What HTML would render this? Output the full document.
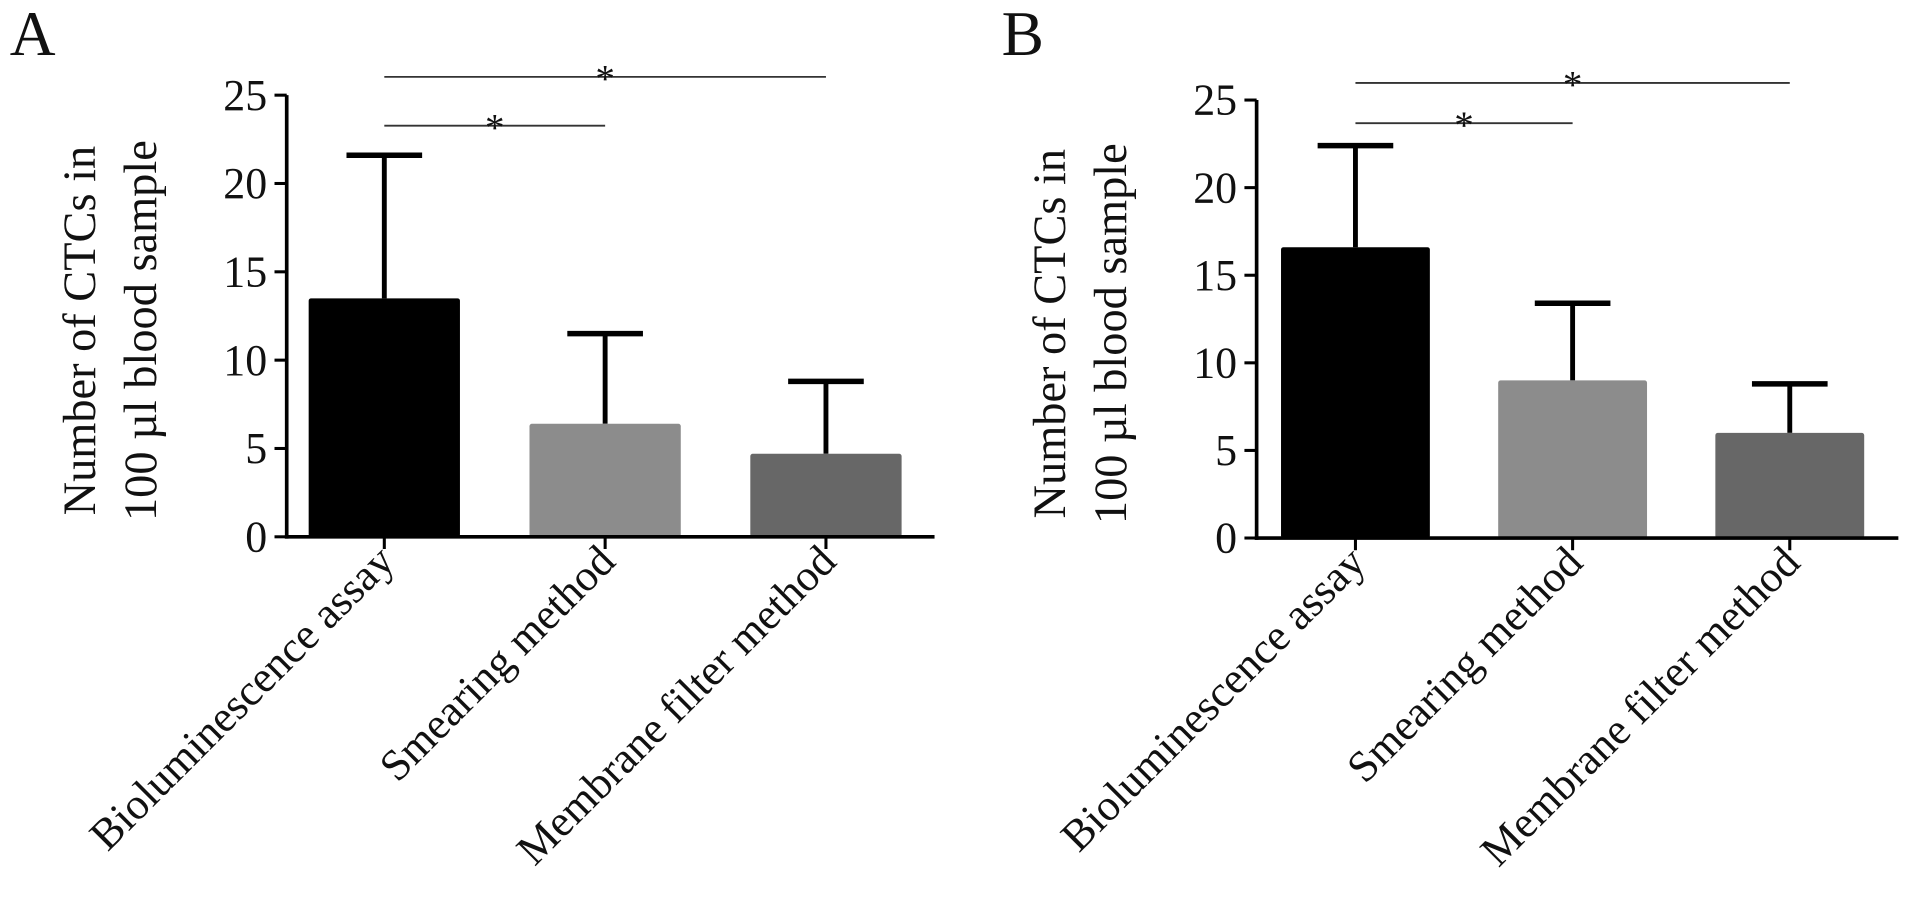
<!DOCTYPE html>
<html><head><meta charset="utf-8"><style>
html,body{margin:0;padding:0;background:#fff;}
svg{display:block;}
text{font-family:"Liberation Serif",serif;fill:#111;}
</style></head><body>
<svg id="fig" width="1913" height="900" viewBox="0 0 1568 737.7" preserveAspectRatio="none" xmlns="http://www.w3.org/2000/svg"></svg>
<script>
const categories = ["Bioluminescence assay", "Smearing method", "Membrane filter method"];
const colors = ["#000000", "#8c8c8c", "#676767"];
const yTicks = [0, 5, 10, 15, 20, 25];
const meansA = [13.5, 6.4, 4.7];
const errA = [21.6, 11.5, 8.8];
const meansB = [16.6, 9.0, 6.0];
const errB = [22.4, 13.4, 8.8];
const sigPairs = [[0, 2], [0, 1]];
const sigLabels = ["*", "*"];

const NS = "http://www.w3.org/2000/svg";
const svg = document.getElementById('fig');
function mk(tag, attrs, parent) {
  const e = document.createElementNS(NS, tag);
  for (const k in attrs) e.setAttribute(k, attrs[k]);
  (parent || svg).appendChild(e);
  return e;
}

function panel(cfg) {
  const g = mk('g', {});
  
  
  const y = v => cfg.y0 - (v / 25) * (cfg.y0 - cfg.y25);
  const cx = i => cfg.c0 + i * cfg.step;

  const L = mk('text', {x: cfg.lx, y: 45, 'font-size': 52}, g);
  L.textContent = cfg.letter;
  
  

  const mid = (cfg.y0 + cfg.y25) / 2 + 12;
  const yt = mk('text', {transform: `translate(${cfg.ax - 157},${mid}) rotate(-90)`, 'font-size': 38, 'text-anchor': 'middle'}, g);
  yt.textContent = 'Number of CTCs in';
  
  
  const yt2 = mk('text', {transform: `translate(${cfg.ax - 107},${mid}) rotate(-90)`, 'font-size': 38, 'text-anchor': 'middle'}, g);
  yt2.textContent = '100 µl blood sample';
  
  

  categories.forEach((c, i) => {
    const m = cfg.means[i], e = cfg.errs[i];
    const x = cx(i);
    const eb = mk('line', {x1: x, x2: x, y1: y(m), y2: y(e), stroke: '#000', 'stroke-width': 4}, g);
    
    
    const cap = mk('line', {x1: x - 31, x2: x + 31, y1: y(e), y2: y(e), stroke: '#000', 'stroke-width': 4.5}, g);
    
    
    const r = mk('rect', {x: x - cfg.bw / 2, y: y(m), width: cfg.bw, height: y(0) - y(m), fill: colors[i], rx: 2}, g);
    
    
    const tk = mk('line', {x1: x, x2: x, y1: y(0), y2: y(0) + 10, stroke: '#000', 'stroke-width': 2.5}, g);
    
    
    const t = mk('text', {transform: `translate(${x + 10},${y(0) + 22}) rotate(-45)`, 'font-size': 36, 'text-anchor': 'end'}, g);
    t.textContent = c;
    
    
  });

  const ya = mk('line', {x1: cfg.ax, x2: cfg.ax, y1: y(25), y2: y(0) + 1.5, stroke: '#000', 'stroke-width': 3}, g);
  
  
  const xa = mk('line', {x1: cfg.ax - 1.5, x2: cfg.axEnd, y1: y(0), y2: y(0), stroke: '#000', 'stroke-width': 3}, g);
  
  
  yTicks.forEach(v => {
    const tk = mk('line', {x1: cfg.ax - 10, x2: cfg.ax, y1: y(v), y2: y(v), stroke: '#000', 'stroke-width': 2.5}, g);
    
    
    const t = mk('text', {x: cfg.ax - 16, y: y(v) + 12, 'font-size': 36, 'text-anchor': 'end'}, g);
    t.textContent = v;
    
    
  });

  sigPairs.forEach((p, k) => {
    const ly = cfg.sigY[k];
    const a = cx(p[0]), b = cx(p[1]);
    const ln = mk('line', {x1: a, x2: b, y1: ly, y2: ly, stroke: '#333', 'stroke-width': 1.5}, g);
    
    
    const st = mk('text', {x: (a + b) / 2, y: ly + 12, 'font-size': 32, 'text-anchor': 'middle'}, g);
    st.textContent = sigLabels[k];
    
    
  });
}

panel({letter: 'A', lx: 8, ax: 235, axEnd: 766, y0: 440, y25: 78, c0: 315, step: 181, bw: 124, means: meansA, errs: errA, sigY: [63, 103]});
panel({letter: 'B', lx: 821, ax: 1030, axEnd: 1556, y0: 441, y25: 82, c0: 1111, step: 178, bw: 122, means: meansB, errs: errB, sigY: [68, 101]});
</script>
</body></html>
